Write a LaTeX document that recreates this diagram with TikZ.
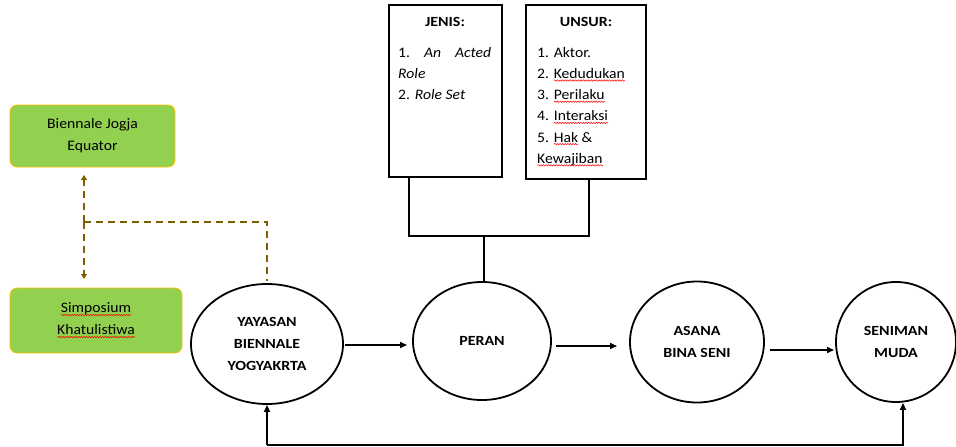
\documentclass[tikz,border=0pt]{standalone}
\usepackage{fontspec}
\setmainfont{Carlito}[FakeStretch=1.08, BoldFeatures={FakeStretch=1.14}]
\usetikzlibrary{shapes.geometric,arrows.meta,decorations.pathmorphing}
\definecolor{leafgreen}{HTML}{92D050}
\definecolor{goldline}{HTML}{FFC000}
\definecolor{olivedash}{HTML}{7F6000}
\newlength\spellwd
\newcommand\spell[1]{\settowidth\spellwd{#1}\leavevmode\rlap{#1}%
  \makebox[\spellwd][l]{\raisebox{-3pt}{\tikz[x=1pt,y=1pt]\draw[draw=red, fill=none, sharp corners,
    line width=0.5pt, decorate, decoration={snake, amplitude=0.7pt, segment length=2.6pt}]
    (0,0) -- (\spellwd,0);}}}
\tikzset{
  greenbox/.style={draw=goldline, line width=0.8pt, fill=leafgreen, rounded corners=7pt,
    align=center, font=\fontsize{14.5}{22}\selectfont},
  actor/.style={ellipse, draw, line width=1.8pt, align=center, inner sep=0pt,
    font=\bfseries\fontsize{14}{22}\selectfont},
  listbox/.style={draw, line width=1.8pt},
  listtext/.style={anchor=north west, inner sep=0pt, align=left,
    font=\fontsize{14.5}{21.2}\selectfont},
  flow/.style={line width=1.6pt, -{Triangle[length=7pt,width=6pt]}},
  link/.style={line width=1.8pt},
  relation/.style={draw=olivedash, line width=2pt, dash pattern=on 7pt off 5pt},
  reltip/.style={relation, -{Triangle[length=5pt,width=6pt]}},
}
\begin{document}
\begin{tikzpicture}[x=1pt,y=-1pt]
  \useasboundingbox (0,0) rectangle (956,447);

  % partner boxes
  \node[greenbox, minimum width=165, minimum height=62] (bje) at (92.5,136) {Biennale Jogja\\Equator};
  \node[greenbox, minimum width=172, minimum height=65] (sim) at (96,320.5) {\spell{Simposium}\\\spell{Khatulistiwa}};

  % main chain
  \node[actor, minimum width=152, minimum height=120] (yay) at (267,344) {YAYASAN\\BIENNALE\\YOGYAKRTA};
  \node[actor, minimum width=138, minimum height=118] (peran) at (482,341) {PERAN};
  \node[actor, minimum width=134, minimum height=121] (asana) at (697,342) {ASANA\\BINA SENI};
  \node[actor, minimum width=120, minimum height=120] (seni) at (896,342) {SENIMAN\\MUDA};

  % role boxes
  \node[listbox, minimum width=113, minimum height=172] (jenis) at (445.5,91) {};
  \node[listbox, minimum width=120, minimum height=174] (unsur) at (586,92) {};
  \node[font=\bfseries\fontsize{14}{16}\selectfont] (jenishead) at (445,22) {JENIS:};
  \node[font=\bfseries\fontsize{14}{16}\selectfont] (unsurhead) at (586,22) {UNSUR:};
  \node[listtext] (jenislist) at (398,47)
    {\makebox[93pt][s]{1.\hfill\textit{An}\hfill\textit{Acted}}\\\textit{Role}\\2. \textit{Role Set}};
  \node[listtext] (unsurlist) at (537,47)
    {1. Aktor.\\2. \spell{Kedudukan}\\3. \spell{Perilaku}\\4. \spell{Interaksi}\\5. \spell{Hak} \&\\\spell{Kewajiban}};

  % tree from boxes to PERAN
  \coordinate (jn) at (409,236);
  \coordinate (un) at (589,236);
  \coordinate (pj) at (484,236);
  \draw[link] (jn |- jenis.south) -- (jn) -- (un) -- (un |- unsur.south);
  \draw[link] (pj) -- (pj |- peran.north);

  % flow arrows
  \draw[flow] (345,345) -- (407,345);
  \draw[flow] (556,346) -- (617,346);
  \draw[flow] (770,350) -- (834,350);

  % feedback loop
  \coordinate (fbl) at (267,445);
  \coordinate (fbr) at (903,445);
  \draw[flow] (fbl) -- (fbr) -- (fbr |- seni.south);
  \draw[flow] (fbl) -- (yay.south);

  % dashed relations
  \coordinate (rj) at (84,222);
  \coordinate (ry) at (267,222);
  \draw[reltip] (rj) -- (84,175);
  \draw[reltip] (rj) -- (84,279);
  \draw[relation] (rj) -- (ry) -- (267,281);
\end{tikzpicture}
\end{document}
